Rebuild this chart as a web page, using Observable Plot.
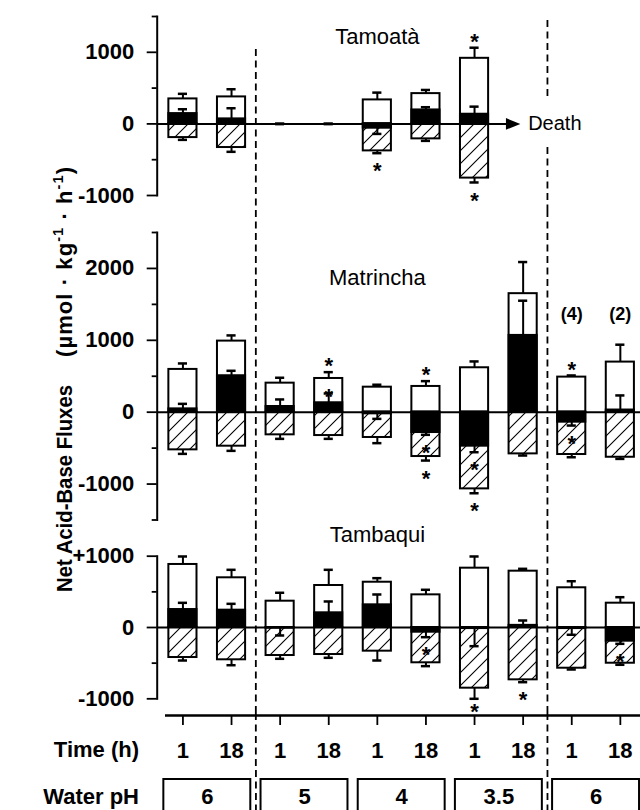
<!DOCTYPE html>
<html>
<head>
<meta charset="utf-8">
<script src="https://cdn.jsdelivr.net/npm/d3@7"></script>
<script src="https://cdn.jsdelivr.net/npm/@observablehq/plot@0.6"></script>
<style>
  body { margin: 0; background: #fff; }
  #wrap { position: relative; width: 640px; height: 810px; overflow: hidden; background: #fff;
          font-family: "Liberation Sans", Arial, Helvetica, sans-serif; }
  .rowlbl { position: absolute; right: 501px; font-size: 22px; line-height: 22px; font-weight: bold; white-space: nowrap; }
</style>
</head>
<body>
<svg width="0" height="0" style="position:absolute">
  <defs>
    <pattern id="hatch" patternUnits="userSpaceOnUse" width="13" height="13">
      <rect width="13" height="13" fill="white"></rect>
      <path d="M0,13 L13,0 M-3,3 L3,-3 M10,16 L16,10" stroke="black" stroke-width="1.1"></path>
    </pattern>
  </defs>
</svg>
<div id="wrap"></div>
<script>
// ---------- categories & labels ----------
const categories = ["pH6 1h", "pH6 18h", "pH5 1h", "pH5 18h", "pH4 1h", "pH4 18h",
                    "pH3.5 1h", "pH3.5 18h", "pH6r 1h", "pH6r 18h"];
const timeLabels = ["1", "18", "1", "18", "1", "18", "1", "18", "1", "18"];
const phGroups = ["g6a", "g5", "g4", "g35", "g6b"];
const phLabels = ["6", "5", "4", "3.5", "6"];

// ---------- Tamoatà (died after pH 3.5, 1 h) ----------
const tamOpen     = [349, 377, 0, 0, 335, 423, 916];
const tamOpenErr  = [71, 107, 0, 0, 102, 51, 148];
const tamNet      = [144, 70, 0, 0, -60, 195, 135];
const tamNetErr   = [61, 149, 0, 0, 80, 38, 106];
const tamHatch    = [-191, -330, 0, 0, -377, -209, -757];
const tamHatchErr = [32, 60, 0, 0, 32, 28, 61];
const tamSig = [{i: 4, s: "hatch"}, {i: 6, s: "open"}, {i: 6, s: "hatch"}];
const tamTicks = [-1000, 0, 1000];
const tamTickLabels = ["-1000", "0", "1000"];
const tamMinor = [-500, 500, 1500];

// ---------- Matrincha ----------
const matOpen     = [595, 989, 404, 469, 348, 358, 618, 1649, 488, 697];
const matOpenErr  = [83, 79, 75, 88, 34, 74, 88, 440, 23, 242];
const matNet      = [46, 507, 79, 131, -23, -283, -473, 1068, -139, 30];
const matNetErr   = [70, 69, 98, 129, 70, 32, 84, 483, 47, 203];
const matHatch    = [-524, -473, -315, -325, -352, -617, -1067, -580, -589, -627];
const matHatchErr = [56, 65, 56, 46, 79, 56, 61, 23, 38, 23];
const matSig = [{i: 3, s: "open"}, {i: 3, s: "net", gap: 3}, {i: 5, s: "open"}, {i: 5, s: "net"}, {i: 5, s: "hatch"},
                {i: 6, s: "net"}, {i: 6, s: "hatch"}, {i: 8, s: "open"}, {i: 8, s: "net"}];
const matNotes = [{i: 8, text: "(4)"}, {i: 9, text: "(2)"}];
const matTicks = [-1000, 0, 1000, 2000];
const matTickLabels = ["-1000", "0", "1000", "2000"];
const matMinor = [-1500, -500, 500, 1500, 2500];

// ---------- Tambaqui ----------
const tbqOpen     = [884, 697, 369, 589, 635, 458, 832, 790, 557, 341];
const tbqOpenErr  = [112, 112, 118, 220, 57, 71, 164, 33, 92, 84];
const tbqNet      = [252, 243, -10, 206, 318, -66, -15, 30, -15, -192];
const tbqNetErr   = [94, 89, 102, 159, 145, 70, 247, 68, 87, 37];
const tbqHatch    = [-421, -453, -393, -379, -332, -495, -851, -734, -571, -501];
const tbqHatchErr = [42, 76, 46, 46, 131, 47, 149, 33, 18, 22];
const tbqSig = [{i: 5, s: "net"}, {i: 6, s: "hatch", gap: 7}, {i: 7, s: "hatch"}, {i: 9, s: "net"}];
const tbqTicks = [-1000, 0, 1000];
const tbqTickLabels = ["-1000", "0", "+1000"];
const tbqMinor = [-500, 500];

// dashed separator segments in the Tamoatà panel (gap around the "Death" arrow)
const tamDashesToBottom = [{i: 1, y1: 1040, y2: -1000}, {i: 7, y1: -330, y2: -1000}];
const tamDashesUpper = [{i: 7, y1: 1444, y2: 355}];

// ---------- layout ----------
const FONT = '"Liberation Sans", Arial, Helvetica, sans-serif';
const W = 640, ML = 156.7;
const PIN = 0.38, POUT = 0.162, ALIGN = 0.677;
const step = (W - ML) / (categories.length - PIN + 2 * POUT);
const firstOffset = (W - ML - step * (categories.length - PIN)) * ALIGN;
const xScale = {type: "band", domain: categories, paddingInner: PIN, paddingOuter: POUT, align: ALIGN, round: false, axis: null};
const dashStyle = {stroke: "black", strokeWidth: 1.8, strokeDasharray: "7,4.5"};
const baseStyle = {fontFamily: FONT, fontSize: "22px", color: "black", background: "transparent", overflow: "visible"};
const wrap = document.getElementById("wrap");

function place(el, top) {
  el.style.position = "absolute";
  el.style.left = "0px";
  el.style.top = top + "px";
  wrap.appendChild(el);
}

function rows(open, openErr, net, netErr, hatch, hatchErr) {
  return open.map((o, i) => ({cat: categories[i], open: o, openErr: openErr[i], net: net[i], netErr: netErr[i],
                              hatch: hatch[i], hatchErr: hatchErr[i]}));
}
const cap = (d, s) => (d[s] < 0 || s === "hatch") ? d[s] - d[s + "Err"] : d[s] + d[s + "Err"];

function panel(cfg) {
  const {data, domain, ticks, tickLabels, minor, top, height, mt, mb, title, titleDy, sig, notes = [], extra = [], dashes} = cfg;
  const unitsPerPx = (domain[1] - domain[0]) / (height - mt - mb);
  const sigRows = sig.map(({i, s, gap = 12}) => {
    const up = data[i][s] >= 0 && s !== "hatch";
    return {cat: categories[i], y: cap(data[i], s) + (up ? 1 : -1) * gap * unitsPerPx};
  });
  const errMarks = [];
  for (const s of ["open", "hatch", "net"]) {
    errMarks.push(
      Plot.ruleX(data, {x: "cat", y1: s, y2: d => cap(d, s), stroke: "black", strokeWidth: 2}),
      Plot.tickY(data, {x: "cat", y: d => cap(d, s), insetLeft: 10.5, insetRight: 10.5, stroke: "black", strokeWidth: 2.5})
    );
  }
  const svg = Plot.plot({
    width: W, height, marginLeft: ML, marginRight: 0, marginTop: mt, marginBottom: mb,
    x: xScale,
    y: {domain, axis: null},
    style: baseStyle,
    marks: [
      ...dashes,
      Plot.barY(data, {x: "cat", y1: 0, y2: "open", insetLeft: 1, insetRight: 1, fill: "white", stroke: "black", strokeWidth: 2}),
      Plot.barY(data, {x: "cat", y1: 0, y2: "hatch", insetLeft: 1, insetRight: 1, fill: "url(#hatch)", stroke: "black", strokeWidth: 2}),
      Plot.barY(data, {x: "cat", y1: 0, y2: "net", insetLeft: 1, insetRight: 1, fill: "black", stroke: "black", strokeWidth: 2}),
      ...extra,
      ...errMarks,
      Plot.text(sigRows, {x: "cat", y: "y", text: () => "*", dy: 6, lineAnchor: "middle", fontSize: 22, fontWeight: "bold", fontFamily: FONT}),
      Plot.text(notes, {x: d => categories[d.i], text: "text", frameAnchor: "top", dy: 82, lineAnchor: "middle", fontSize: 18, fontWeight: "bold", fontFamily: FONT}),
      Plot.text([title], {x: () => categories[4], text: d => d, frameAnchor: "top", dy: titleDy, lineAnchor: "middle", fontSize: 22, fontFamily: FONT}),
      Plot.axisY(ticks, {anchor: "left", tickSize: 10, tickPadding: 13, tickFormat: d => tickLabels[ticks.indexOf(d)],
                         fontSize: 22, fontWeight: "bold", fontFamily: FONT, strokeWidth: 1.8, label: null}),
      Plot.axisY(minor, {anchor: "left", tickSize: 5, tickFormat: () => "", strokeWidth: 1.8, label: null}),
      Plot.frame({anchor: "left", strokeWidth: 2})
    ]
  });
  place(svg, top);
}

// arrowhead symbol (filled, pointing right)
const arrowRight = {
  draw(ctx, size) {
    const s = Math.sqrt(size / Math.PI);
    ctx.moveTo(s * 1.6, 0);
    ctx.lineTo(-s * 1.6, -s * 1.3);
    ctx.lineTo(-s * 1.6, s * 1.3);
    ctx.closePath();
  }
};

// ---------- Panel 1: Tamoatà ----------
panel({
  data: rows(tamOpen, tamOpenErr, tamNet, tamNetErr, tamHatch, tamHatchErr),
  domain: [-1000, 1500], ticks: tamTicks, tickLabels: tamTickLabels, minor: tamMinor,
  top: 0, height: 210, mt: 16, mb: 15, title: "Tamoatà", titleDy: 20, sig: tamSig,
  dashes: [
    Plot.ruleX(tamDashesToBottom, {x: d => categories[d.i], y1: "y1", y2: "y2", dx: step / 2, insetBottom: -15, ...dashStyle}),
    Plot.ruleX(tamDashesUpper, {x: d => categories[d.i], y1: "y1", y2: "y2", dx: step / 2, ...dashStyle})
  ],
  extra: [
    Plot.ruleY([0], {x1: () => categories[0], x2: () => categories[7], insetLeft: -firstOffset, insetRight: 24, stroke: "black", strokeWidth: 2}),
    Plot.dot([0], {x: () => categories[7], y: d => d, symbol: arrowRight, r: 4.5, fill: "black", dx: -10}),
    Plot.text(["Death"], {x: () => categories[7], y: () => 0, text: d => d, textAnchor: "start", dx: 5, fontSize: 20, fontFamily: FONT})
  ]
});

// ---------- Panel 2: Matrincha ----------
panel({
  data: rows(matOpen, matOpenErr, matNet, matNetErr, matHatch, matHatchErr),
  domain: [-1500, 2500], ticks: matTicks, tickLabels: matTickLabels, minor: matMinor,
  top: 210, height: 312, mt: 22, mb: 2.5, title: "Matrincha", titleDy: 45, sig: matSig, notes: matNotes,
  dashes: [Plot.ruleX([1, 7], {x: i => categories[i], dx: step / 2, insetTop: -22, insetBottom: -2.5, ...dashStyle})],
  extra: [Plot.ruleY([0], {stroke: "black", strokeWidth: 2})]
});

// ---------- Panel 3: Tambaqui ----------
panel({
  data: rows(tbqOpen, tbqOpenErr, tbqNet, tbqNetErr, tbqHatch, tbqHatchErr),
  domain: [-1000, 1000], ticks: tbqTicks, tickLabels: tbqTickLabels, minor: tbqMinor,
  top: 522, height: 191, mt: 33.7, mb: 14.7, title: "Tambaqui", titleDy: -21, sig: tbqSig,
  dashes: [Plot.ruleX([1, 7], {x: i => categories[i], dx: step / 2, insetTop: -33.7, insetBottom: -14.7, ...dashStyle})],
  extra: [Plot.ruleY([0], {stroke: "black", strokeWidth: 2})]
});

// ---------- Time axis ----------
place(Plot.plot({
  width: W, height: 57, marginLeft: ML, marginRight: 0, marginTop: 0, marginBottom: 55,
  x: xScale, y: {domain: [0, 1], axis: null}, style: baseStyle,
  marks: [
    Plot.ruleX([1, 7], {x: i => categories[i], dx: step / 2, insetTop: 0, insetBottom: -55, ...dashStyle}),
    Plot.ruleY([0], {insetLeft: 8.3, stroke: "black", strokeWidth: 2.5}),
    Plot.axisX({anchor: "bottom", tickSize: 10, tickPadding: 17, tickFormat: d => timeLabels[categories.indexOf(d)],
                fontSize: 22, fontWeight: "bold", fontFamily: FONT, strokeWidth: 1.8, label: null})
  ]
}), 713);

// ---------- Water pH row ----------
place(Plot.plot({
  width: W, height: 40, marginLeft: ML, marginRight: 0, marginTop: 9, marginBottom: 0,
  x: {type: "band", domain: phGroups, paddingInner: 0.095, paddingOuter: 0.034, align: 0.93, round: false, axis: null},
  style: baseStyle,
  marks: [
    Plot.ruleX([0, 3], {x: i => phGroups[i], dx: step, insetTop: -9, ...dashStyle}),
    Plot.cell(phGroups, {x: d => d, fill: "white", stroke: "black", strokeWidth: 2, insetLeft: 0.5, insetRight: 0.5, insetBottom: -4}),
    Plot.text(phGroups, {x: d => d, text: (d, i) => phLabels[i], frameAnchor: "middle", dy: 2, fontSize: 22, fontWeight: "bold", fontFamily: FONT})
  ]
}), 770);

// ---------- row labels ----------
for (const [txt, cy] of [["Time (h)", 750], ["Water pH", 796.7]]) {
  const d = document.createElement("div");
  d.className = "rowlbl";
  d.textContent = txt;
  d.style.top = (cy - 11) + "px";
  wrap.appendChild(d);
}

// ---------- y-axis title ----------
const ns = "http://www.w3.org/2000/svg";
const t = document.createElementNS(ns, "svg");
t.setAttribute("width", 160); t.setAttribute("height", 810);
t.style.position = "absolute"; t.style.left = "0px"; t.style.top = "0px";
t.innerHTML = `<g font-family='${FONT}' font-weight="bold" fill="black">
  <text font-size="21.5" transform="translate(72,592) rotate(-90)" textLength="207" lengthAdjust="spacingAndGlyphs">Net Acid-Base Fluxes</text>
  <text font-size="22" transform="translate(72,357) rotate(-90)" textLength="190" lengthAdjust="spacing">(µmol · kg<tspan font-size="14.5" dy="-9.5">-1</tspan><tspan dy="9.5"> · h</tspan><tspan font-size="14.5" dy="-9.5">-1</tspan><tspan dy="9.5">)</tspan></text>
</g>`;
wrap.appendChild(t);
</script>
</body>
</html>
